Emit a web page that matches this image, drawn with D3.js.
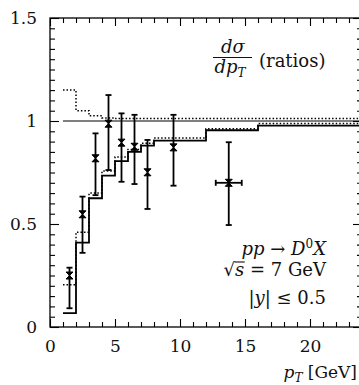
<!DOCTYPE html>
<html>
<head>
    <meta charset="utf-8">
    <style>
        body { margin: 0; background: #fff; }
        text { font-family: "DejaVu Serif", serif; font-size: 17px; fill: #111; }
        .it { font-style: italic; }
        .note { font-size: 18px; }
        .frame { fill: none; stroke: #000; stroke-width: 1.3px; }
        .axis path { display: none; }
        .axis line { stroke: #000; stroke-width: 1.1px; }
        .step { fill: none; stroke: #000; stroke-width: 1.8px; }
        .dotted { fill: none; stroke: #000; stroke-width: 1.5px; stroke-dasharray: 1.5, 2; }
        .unity { stroke: #000; stroke-width: 1px; }
        .err { stroke: #000; stroke-width: 1.8px; }
    </style>
</head>
<body>
    <script src="https://cdn.jsdelivr.net/npm/d3@7"></script>
    <script>
        // histogram bin edges (pT in GeV) and the three ratio curves
        var binEdges = [1, 2, 3, 4, 5, 6, 7, 8, 12, 16, 24];
        var solidRatio = [0.067, 0.41, 0.625, 0.735, 0.805, 0.85, 0.88, 0.905, 0.955, 0.978];
        var lowerRatio = [0.205, 0.46, 0.65, 0.757, 0.825, 0.862, 0.892, 0.918, 0.962, 0.988];
        var upperRatio = [1.15, 1.05, 1.025, 1.015, 1.012, 1.012, 1.012, 1.012, 1.012, 1.012];

        // data points with errors
        var pointPt = [1.5, 2.5, 3.5, 4.5, 5.5, 6.5, 7.5, 9.5, 13.75];
        var pointVal = [0.25, 0.547, 0.819, 0.987, 0.895, 0.875, 0.751, 0.872, 0.70];
        var pointHi = [0.288, 0.633, 0.94, 1.126, 1.037, 1.03, 0.908, 1.03, 0.897];
        var pointLo = [0.091, 0.36, 0.64, 0.762, 0.705, 0.694, 0.573, 0.686, 0.495];
        var pointXerr = [0, 0, 0, 0, 0, 0, 0, 0, 1.0];

        var xMajor = [0, 5, 10, 15, 20];
        var yMajor = [0, 0.5, 1, 1.5];
        var yTickLabels = ["0", "0.5", "1", "1.5"];

        var W = 359, H = 385;
        var plotL = 50, plotR = 362, plotT = 18, plotB = 327;

        var x = d3.scaleLinear().domain([0, 24]).range([plotL, plotR]);
        var y = d3.scaleLinear().domain([0, 1.5]).range([plotB, plotT]);

        var svg = d3.select("body").append("svg")
            .attr("width", W)
            .attr("height", H);

        var xMinor = d3.range(0, 25).filter(function (v) { return v % 5 !== 0; });
        var yMinor = d3.range(0, 31).map(function (i) { return i * 0.05; })
            .filter(function (v) { return Math.abs(v * 2 - Math.round(v * 2)) > 1e-6; });

        // bottom axis
        svg.append("g").attr("class", "axis")
            .attr("transform", "translate(0," + plotB + ")")
            .call(d3.axisBottom(x).tickValues(xMajor).tickSize(-8).tickPadding(13).tickFormat(d3.format("d")));
        svg.append("g").attr("class", "axis")
            .attr("transform", "translate(0," + plotB + ")")
            .call(d3.axisBottom(x).tickValues(xMinor).tickSize(-5).tickFormat(""));
        // top axis
        svg.append("g").attr("class", "axis")
            .attr("transform", "translate(0," + plotT + ")")
            .call(d3.axisTop(x).tickValues(xMajor).tickSize(-8).tickFormat(""));
        svg.append("g").attr("class", "axis")
            .attr("transform", "translate(0," + plotT + ")")
            .call(d3.axisTop(x).tickValues(xMinor).tickSize(-5).tickFormat(""));
        // left axis
        svg.append("g").attr("class", "axis")
            .attr("transform", "translate(" + plotL + ",0)")
            .call(d3.axisLeft(y).tickValues(yMajor).tickSize(-9).tickPadding(13)
                .tickFormat(function (d, i) { return yTickLabels[i]; }));
        svg.append("g").attr("class", "axis")
            .attr("transform", "translate(" + plotL + ",0)")
            .call(d3.axisLeft(y).tickValues(yMinor).tickSize(-5).tickFormat(""));
        // right axis
        svg.append("g").attr("class", "axis")
            .attr("transform", "translate(" + plotR + ",0)")
            .call(d3.axisRight(y).tickValues(yMajor).tickSize(-9).tickFormat(""));
        svg.append("g").attr("class", "axis")
            .attr("transform", "translate(" + plotR + ",0)")
            .call(d3.axisRight(y).tickValues(yMinor).tickSize(-5).tickFormat(""));

        svg.selectAll(".axis").attr("font-family", null).attr("font-size", null);

        svg.append("rect").attr("class", "frame")
            .attr("x", plotL).attr("y", plotT)
            .attr("width", plotR - plotL).attr("height", plotB - plotT);

        // line at ratio = 1
        svg.append("line").attr("class", "unity")
            .attr("x1", x(1)).attr("x2", x(24))
            .attr("y1", y(1)).attr("y2", y(1));

        // step curves
        var step = d3.line()
            .x(function (d) { return x(d[0]); })
            .y(function (d) { return y(d[1]); })
            .curve(d3.curveStepAfter);

        function stepData(vals) {
            var pts = vals.map(function (v, i) { return [binEdges[i], v]; });
            pts.push([binEdges[binEdges.length - 1], vals[vals.length - 1]]);
            return pts;
        }

        svg.append("path").attr("class", "dotted").attr("d", step(stepData(upperRatio)));
        svg.append("path").attr("class", "dotted").attr("d", step(stepData(lowerRatio)));
        svg.append("path").attr("class", "step").attr("d", step(stepData(solidRatio)));

        // error bars
        var pts = pointPt.map(function (p, i) {
            return { pt: p, v: pointVal[i], hi: pointHi[i], lo: pointLo[i], xe: pointXerr[i] };
        });
        var g = svg.selectAll(".pt").data(pts).enter().append("g").attr("class", "pt");
        g.append("line").attr("class", "err")
            .attr("x1", function (d) { return x(d.pt); }).attr("x2", function (d) { return x(d.pt); })
            .attr("y1", function (d) { return y(d.hi); }).attr("y2", function (d) { return y(d.lo); });
        g.append("line").attr("class", "err")
            .attr("x1", function (d) { return x(d.pt) - 3; }).attr("x2", function (d) { return x(d.pt) + 3; })
            .attr("y1", function (d) { return y(d.hi); }).attr("y2", function (d) { return y(d.hi); });
        g.append("line").attr("class", "err")
            .attr("x1", function (d) { return x(d.pt) - 3; }).attr("x2", function (d) { return x(d.pt) + 3; })
            .attr("y1", function (d) { return y(d.lo); }).attr("y2", function (d) { return y(d.lo); });
        var gx = g.filter(function (d) { return d.xe > 0; });
        gx.append("line").attr("class", "err")
            .attr("x1", function (d) { return x(d.pt - d.xe); }).attr("x2", function (d) { return x(d.pt + d.xe); })
            .attr("y1", function (d) { return y(d.v); }).attr("y2", function (d) { return y(d.v); });
        gx.append("line").attr("class", "err")
            .attr("x1", function (d) { return x(d.pt - d.xe); }).attr("x2", function (d) { return x(d.pt - d.xe); })
            .attr("y1", function (d) { return y(d.v) - 3; }).attr("y2", function (d) { return y(d.v) + 3; });
        gx.append("line").attr("class", "err")
            .attr("x1", function (d) { return x(d.pt + d.xe); }).attr("x2", function (d) { return x(d.pt + d.xe); })
            .attr("y1", function (d) { return y(d.v) - 3; }).attr("y2", function (d) { return y(d.v) + 3; });
        // hourglass markers
        g.append("path")
            .attr("transform", function (d) { return "translate(" + x(d.pt) + "," + y(d.v) + ")"; })
            .attr("d", "M-3.5,-3.5H3.5L-3.5,3.5H3.5Z")
            .attr("fill", "#000").attr("stroke", "#000").attr("stroke-width", 1);

        // d sigma / d pT (ratios)
        var t = svg.append("text").attr("class", "note").attr("x", 233).attr("y", 53).attr("text-anchor", "middle");
        t.append("tspan").attr("class", "it").text("dσ");
        svg.append("line").attr("x1", 213).attr("x2", 252).attr("y1", 57.5).attr("y2", 57.5)
            .attr("stroke", "#111").attr("stroke-width", 1);
        t = svg.append("text").attr("class", "note").attr("x", 230).attr("y", 73).attr("text-anchor", "middle");
        t.append("tspan").attr("class", "it").text("dp");
        t.append("tspan").attr("class", "it").attr("font-size", "12px").attr("dy", 4).text("T");
        svg.append("text").attr("class", "note").attr("x", 259).attr("y", 67).text("(ratios)");

        // process labels
        t = svg.append("text").attr("class", "note").attr("x", 326).attr("y", 255).attr("text-anchor", "end");
        t.append("tspan").attr("class", "it").text("pp");
        t.append("tspan").text(" → ");
        t.append("tspan").attr("class", "it").text("D");
        t.append("tspan").attr("font-size", "12px").attr("dy", -7).text("0");
        t.append("tspan").attr("class", "it").attr("dy", 7).text("X");

        t = svg.append("text").attr("class", "note").attr("x", 326).attr("y", 276).attr("text-anchor", "end");
        t.append("tspan").text("√");
        var sSpan = t.append("tspan").attr("class", "it").text("s");
        t.append("tspan").text(" = 7 GeV");
        // radical overbar over s
        var sb = sSpan.node().getBBox();
        svg.append("line").attr("x1", sb.x - 0.5).attr("x2", sb.x + sb.width + 0.5)
            .attr("y1", sb.y + 3).attr("y2", sb.y + 3)
            .attr("stroke", "#111").attr("stroke-width", 1.1);

        t = svg.append("text").attr("class", "note").attr("x", 326).attr("y", 304).attr("text-anchor", "end");
        t.append("tspan").text("|");
        t.append("tspan").attr("class", "it").text("y");
        t.append("tspan").text("| ≤ 0.5");

        // x axis title
        t = svg.append("text").attr("x", 357).attr("y", 378).attr("text-anchor", "end");
        t.append("tspan").attr("class", "it").text("p");
        t.append("tspan").attr("class", "it").attr("font-size", "12px").attr("dy", 4).text("T");
        t.append("tspan").attr("dy", -4).text(" [GeV]");
    </script>
</body>
</html>
